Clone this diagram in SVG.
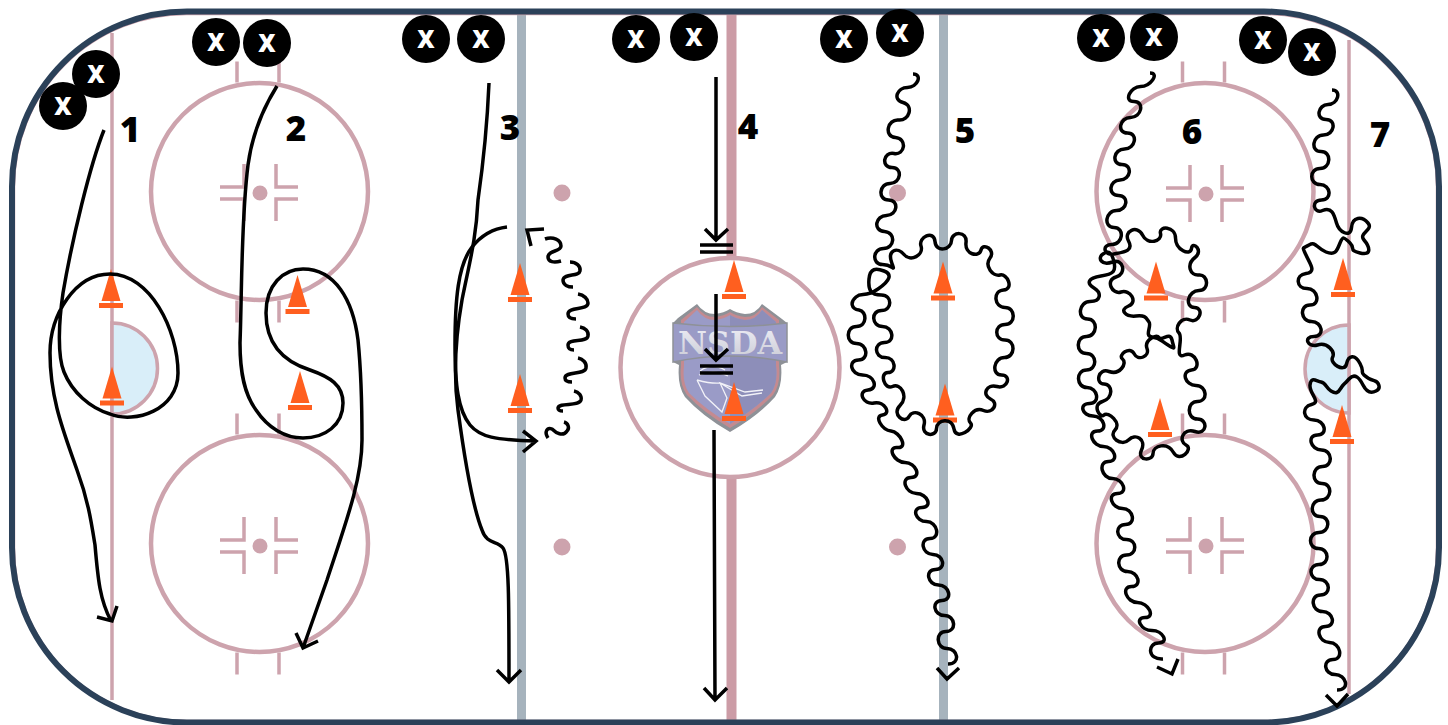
<svg xmlns="http://www.w3.org/2000/svg" width="1448" height="725" viewBox="0 0 1448 725">
<style>
.mk{fill:none;stroke:#cda3ad;stroke-width:3.5}
.ring{fill:none;stroke:#cda3ad;stroke-width:4.5}
.dot{fill:#cda3ad}
.crease{fill:#d9eef9;stroke:#cda3ad;stroke-width:3.5}
.ln{fill:none;stroke:#000;stroke-width:3.5;stroke-linecap:butt;stroke-linejoin:miter}
.wv{fill:none;stroke:#000;stroke-width:3.5;stroke-linecap:butt;stroke-linejoin:miter}
.px{fill:#000}
.pt{fill:#fff;font:800 24px "Open Sans",sans-serif;text-anchor:middle}
.lb{fill:#000;font:800 35px "Open Sans",sans-serif;text-anchor:middle}
.cone{fill:#ff5f1f}
</style>
<defs>
<linearGradient id="nsdaFill" x1="0" y1="0" x2="0" y2="1">
<stop offset="0" stop-color="#eeeef6"/>
<stop offset="1" stop-color="#c9cad4"/>
</linearGradient>
<g id="faceoff">
<path class="mk" d="M-40-6H-16V-29M-40 6H-16V28M38-6H16V-29M38 6H16V28"/>
<circle class="dot" cx="0" cy="0" r="7.5"/>
</g>
<g id="circleMarks">
<circle class="ring" cx="0" cy="0" r="108.5"/>
<path class="mk" d="M-22.500-109V-130M19.500-109V-130M-22.500 109V131M19.500 109V131"/>
</g>
<g id="coneShape">
<path class="cone" d="M0-39L9.500-7H-9.500Z"/>
<rect class="cone" x="-12" y="-5" width="24" height="5"/>
</g>
</defs>
<rect width="1448" height="725" fill="#fff"/>
<g id="rink">
<path d="M112 33V700" fill="none" stroke="#cda3ad" stroke-width="3.500"/>
<path d="M1349 40V694" fill="none" stroke="#cda3ad" stroke-width="3.500"/>
<path d="M521.500 14V722" fill="none" stroke="#a6b3bd" stroke-width="9"/>
<path d="M943.500 14V722" fill="none" stroke="#a6b3bd" stroke-width="9"/>
<path d="M731.500 14V722" fill="none" stroke="#cc9ca6" stroke-width="10"/>
<path class="crease" d="M112 323A45.500 45.500 0 0 1 112 414Z"/>
<path class="crease" d="M1349 325A44 44 0 0 0 1349 413Z"/>
<use href="#circleMarks" x="259.500" y="191.500"/>
<use href="#circleMarks" x="259.500" y="543.500"/>
<use href="#circleMarks" x="1205" y="191.500"/>
<use href="#circleMarks" x="1205" y="543.500"/>
<use href="#faceoff" x="260" y="193"/>
<use href="#faceoff" x="260" y="546"/>
<use href="#faceoff" x="1206" y="194"/>
<use href="#faceoff" x="1206" y="546"/>
<circle cx="730" cy="367.500" r="109.500" fill="#fff" stroke="#cda3ad" stroke-width="4.500"/>
<circle class="dot" cx="562" cy="193" r="8.500"/>
<circle class="dot" cx="562" cy="547" r="8.500"/>
<circle class="dot" cx="897.500" cy="193" r="8.500"/>
<circle class="dot" cx="897.500" cy="547" r="8.500"/>
<rect x="14.500" y="14.500" width="1422" height="706" rx="172" fill="none" stroke="#cda3ad" stroke-width="1.500"/>
<rect x="12" y="11.500" width="1427" height="711" rx="175" fill="none" stroke="#2b4159" stroke-width="6"/>
</g>
<g id="logo">
<path d="M678 318L697 304Q704 314 715 314Q724 313 730 309Q736 313 745 314Q756 314 762 304L782 319L787 323V362L781 365Q783 385 775 397Q758 416 730 432Q702 416 685 397Q677 385 679 365L673 362V323Z" fill="#8e9197"/>
<path d="M681 320L697 307Q704 317 715 317Q724 316 730 312Q736 316 745 317Q756 317 762 307L779 320V366Q781 384 773 395Q756 413 730 428Q704 413 687 395Q679 384 681 366Z" fill="#c48a90"/>
<path d="M684 322L697 310Q704 320 715 320Q724 319 730 315Q736 319 745 320Q756 320 762 310L776 322V366Q778 383 771 393Q754 410 730 424Q706 410 689 393Q682 383 684 366Z" fill="#9a9bc7"/>
<path d="M730 315Q736 319 745 320Q756 320 762 310L776 322V366Q778 383 771 393Q754 410 730 424Z" fill="#8d8eb9"/>
<path d="M673 323Q730 330 787 323V362Q730 350 673 362Z" fill="#9a9bc6" stroke="#8e9197" stroke-width="1.500"/>
<text x="730" y="354" font-family="'DejaVu Serif',serif" font-weight="700" font-size="32" fill="url(#nsdaFill)" text-anchor="middle" textLength="104" lengthAdjust="spacingAndGlyphs">NSDA</text>
<path d="M699 375Q714 369 728 376M700 371Q712 362 725 370M697 380L705 396L722 412L727 398L720 383L745 392L763 390M720 383L742 396L762 393M697 380Q712 384 720 383" fill="none" stroke="#f2f2f8" stroke-width="1.300"/>
</g>
<g id="cones">
<use href="#coneShape" x="111" y="308"/>
<use href="#coneShape" x="112" y="405.500"/>
<use href="#coneShape" x="297.500" y="314"/>
<use href="#coneShape" x="300" y="410"/>
<use href="#coneShape" x="520" y="302"/>
<use href="#coneShape" x="520" y="413"/>
<use href="#coneShape" x="734" y="299"/>
<use href="#coneShape" x="734" y="421"/>
<use href="#coneShape" x="943" y="300.500"/>
<use href="#coneShape" x="945" y="422.500"/>
<use href="#coneShape" x="1156" y="300.500"/>
<use href="#coneShape" x="1160" y="437"/>
<use href="#coneShape" x="1343" y="297"/>
<use href="#coneShape" x="1342" y="444"/>
</g>
<g id="connectors">
<path id="route1" class="ln" d="M104 130C90 165 72 240 63 293C59 320 57 355 64 372C72 392 90 408 110 414C135 424 178 410 178 373C178 330 150 274 110 274C75 274 50 315 50 353C50 400 65 435 77 470C88 500 91 520 95 545C98 580 100 600 111 621M97 617L112 621L117 606"/>
<path id="route2" class="ln" d="M277 86C262 110 252 135 248 165C241 220 242 290 240 343C240 375 245 395 256 410C268 428 285 438 303 438C325 438 343 425 343 403C343 385 330 377 310 370C285 362 266 345 266 313C266 285 283 269 303 269C335 269 353 300 358 340C361 370 362 400 362 440C362 480 345 525 327 580L303 648M296 633L303 648L318 641"/>
<path id="route3a" class="ln" d="M489 83C487 130 483 165 478 200C476 240 470 260 462 300C455 340 454 380 458 410C462 440 470 500 482 530C487 545 497 540 503 548C509 556 509 600 509 682M497 670L509 682L521 670"/>
<path id="route3b" class="ln" d="M507 227C490 229 480 237 472 247C458 265 455 300 455 345C455 385 458 410 470 425C480 437 495 440 536 441M523 431L536 441L523 452"/>
<g id="route3c" class="wv">
<path d="M544 229L527 230L531 246"/>
<path d="M545 239C553 236 561 240 561 246C561 252 548 250 548 257C548 262 554 263 561 261"/>
<path d="M570 262C576 262 581 266 580 271C579 277 564 273 563 280C563 285 568 287 573 287"/>
<path d="M578 294C584 295 588 299 588 303C588 311 568 306 568 314C568 318 571 319 576 319"/>
<path d="M580 327C585 328 589 331 588 336C587 343 568 338 568 345C568 349 570 350 574 350"/>
<path d="M578 358C583 359 587 363 586 368C585 375 565 371 565 378C565 381 568 382 572 382"/>
<path d="M574 391C579 392 582 396 581 400C579 407 559 402 558 408C558 410 560 411 563 411"/>
<path d="M564 422C568 423 570 428 567 431C563 437 556 433 552 429C547 427 544 432 548 438"/>
</g>
<path id="route4a" class="ln" d="M716 77V240M705 229L716 240L728 229M700 245H733M700 252H733"/>
<path id="route4b" class="ln" d="M716 294V360M705 349L716 360L728 349M700 366H733M700 373H733"/>
<path id="route4c" class="ln" d="M714 430L715 700M704 688L715 700L727 688"/>
<path id="route5" class="wv" d="M913 74C923 74 917.500 87.500 907.500 87.500S892 99.500 903 102.500S909.500 121 898.500 120S883.500 136.500 895.500 137.500S905 155.500 894 153.500S881 167.500 892 167.500S901 183.500 890 183.500S877.500 200 888.500 200S897.500 215.500 886.500 215.500S872.500 230.500 884.500 231.500S894.500 248.500 883.500 248.500S871.500 264.500 882.500 264.500S895.500 274 891.500 262S897.500 246.500 904 254.500S924 255 921 246S934 229.500 935 241.500S951.500 249.500 951.500 240.500S967.500 230.500 966 242.500S979 258 981 250S996 250 990 258S993 277 1000 275S1014.500 289 1003.500 290S994 307.500 1005 307.500S1016 324.500 1005 324.500S994 340 1005 340S1015.500 357.500 1004.500 357.500S991 375 1001.500 375S1007.500 389.500 997 386.500S981.500 395 990.500 399S992.500 414.500 983.500 410.500S965.500 418 970.500 423S956 441.500 954 429S936.500 419.500 936.500 428.500S921 436 924 425S913 408.500 909 416.500S891 414.500 900 405.500S900.500 382.500 892.500 386.500S879 372.500 888 372.500S896 357.500 885 357.500S873.500 342.500 884.500 342.500S893.500 326.500 882.500 326.500S870.500 310.500 881.500 310.500S892.500 295 881.500 295S868 290 869 279S876 268 884 271S891 280 878 289S862 292 856 297S851 309 859 310S867.500 326.500 856.500 326.500S845.500 343.500 856.500 343.500S869.500 360 858.500 360S850.500 375 862.500 375S879 389 868 390S863 405 874 403S891.500 414 882.500 415S882 430 891 431S908.500 448.500 897.500 447.500S894 462.500 905 462.500S922 477.500 911 477.500S905.500 493.500 916.500 493.500S933 507.500 922 507.500S915.500 521.500 926.500 521.500S941 538.500 930 538.500S922 554.500 933 554.500S946.500 569.500 935.500 569.500S927.500 585 938.500 585S953 600.500 942 600.500S933.500 615.500 944.500 615.500S957 631.500 946 631.500S936 648.500 947 648.500S961 664 948 664M937 668L947 679L959 668"/>
<path id="route6" class="wv" d="M1150 73C1160 73 1150.500 86.500 1140.500 86.500S1123 101.500 1134 101.500S1141.500 117.500 1130.500 117.500S1116.500 133 1127.500 133S1135.500 149 1124.500 149S1111 164.500 1122 164.500S1131 180 1120 180S1107.500 195.500 1118.500 195.500S1127.500 210.500 1116.500 210.500S1103 227.500 1114 227.500S1123 244.500 1112 244.500S1104 256 1114 254S1134 251 1128.500 241S1137.500 224.500 1142.500 235S1162.500 241.500 1160.500 233.500S1175.500 226 1175.500 238S1190.500 256.500 1191.500 248.500S1204 250.500 1195 257.500S1190 276 1199 275S1210 290.500 1199 290.500S1184 307 1194.500 307.500S1199 324 1190 320S1174 328 1179 333S1173.500 360 1184.500 355S1202.500 369 1191.500 370S1185 385.500 1196 385.500S1208.500 401.500 1197.500 401.500S1186.500 419 1197.500 419S1207 435.500 1195 431.500S1178 441 1186 445S1179.500 463.500 1173.500 452.500S1153 445.500 1153 453.500S1136.500 461 1141.500 450S1135.500 433 1128.500 440S1108 437 1115 430S1108 411 1104 415S1091.500 404.500 1102.500 401.500S1113 384 1104 384S1098 367.500 1109 371.500S1127.500 363 1122.500 359S1130 345.500 1134 353.500S1150 356.500 1147 348.500S1156 333.500 1159 337.500S1170 331 1172 340S1176 350 1168 345S1160 338 1152 337S1152 326 1149 322S1146 315 1136 316S1118.500 310 1128.500 306S1130 289 1121 292S1105 280 1116 277S1123.500 258 1112.500 262S1097 258 1103 254S1112 253 1114 262S1114 274 1101 276S1086 283 1094 288S1101 301.500 1090 301.500S1076.500 319 1087.500 319S1097.500 336.500 1086.500 336.500S1075.500 353.500 1086.500 353.500S1097.500 370 1086.500 370S1076 387.500 1087 387.500S1100.500 403.500 1089.500 403.500S1082 416 1093 416S1108.500 431 1097.500 431S1092.500 446.500 1103.500 446.500S1119.500 461.500 1108.500 461.500S1101.500 478.500 1112.500 478.500S1128.500 493.500 1117.500 493.500S1111.500 508.500 1122.500 508.500S1136.500 524.500 1125.500 524.500S1115.500 539.500 1126.500 539.500S1137.500 555 1126.500 555S1116.500 571.500 1127.500 571.500S1142.500 586.500 1131.500 586.500S1126.500 602.500 1137.500 602.500S1156 617.500 1145 617.500S1141 630.500 1152 630.500S1169.500 643 1158.500 643S1147 660 1163 659M1157 667L1172 674L1178 659"/>
<path id="route7" class="wv" d="M1332 90C1342 90 1338 104.500 1328 104.500S1315 119.500 1326 119.500S1334.500 135 1323.500 135S1310 151.500 1321 151.500S1331 168.500 1320 168.500S1309 184.500 1320 184.500S1332.500 200 1321.500 200S1313.500 214.500 1322.500 210.500S1334 214 1336.500 223S1350.500 238.500 1351.500 227.500S1362 216 1368 223S1358 233 1364 240S1372 256 1360 253S1356 249 1350 243S1343 236 1340 243S1336 256 1326 252S1316 241 1309 245S1302 246 1306 255S1317 272 1306 273.500S1296 288.500 1307 288.500S1321 305 1310 305S1300.500 321.500 1311.500 321.500S1325 336.500 1314 336.500S1307.500 348 1317.500 345S1335.500 351.500 1332.500 357.500S1344.500 373 1346.500 364S1355 354 1360 363.500S1360 371 1364 375S1372 380 1375 381S1382 388 1376 391S1366 391 1363 385S1355 372 1349 379S1344 383 1341 388S1336 394 1331 391S1326 383 1321 382S1311 376 1310 385S1322 402 1311.500 404.500S1303 420 1314 420S1328.500 435 1317.500 435S1310.500 450 1321.500 450S1333.500 466.500 1322.500 466.500S1311 483.500 1322 483.500S1332 500 1321 500S1309 516.500 1320 516.500S1330 532.500 1319 532.500S1307.500 548.500 1318.500 548.500S1330 564.500 1319 564.500S1308.500 579.500 1319.500 579.500S1331.500 595 1320.500 595S1311.500 611.500 1322.500 611.500S1336.500 626.500 1325.500 626.500S1318.500 642.500 1329.500 642.500S1344 659.500 1333 659.500S1324 674.500 1335 674.500S1351 690 1337 690M1326 695L1337 706L1348 694"/>
</g>
<g id="players">
<g id="p1a"><circle class="px" cx="63" cy="106" r="24"/><text class="pt" x="63" y="114.500">X</text></g>
<g id="p1b"><circle class="px" cx="96" cy="74" r="24"/><text class="pt" x="96" y="82.500">X</text></g>
<g id="p2a"><circle class="px" cx="216" cy="42" r="24"/><text class="pt" x="216" y="50.500">X</text></g>
<g id="p2b"><circle class="px" cx="267" cy="43" r="24"/><text class="pt" x="267" y="51.500">X</text></g>
<g id="p3a"><circle class="px" cx="426" cy="39" r="24"/><text class="pt" x="426" y="47.500">X</text></g>
<g id="p3b"><circle class="px" cx="481" cy="39" r="24"/><text class="pt" x="481" y="47.500">X</text></g>
<g id="p4a"><circle class="px" cx="636" cy="39" r="24"/><text class="pt" x="636" y="47.500">X</text></g>
<g id="p4b"><circle class="px" cx="694" cy="37" r="24"/><text class="pt" x="694" y="45.500">X</text></g>
<g id="p5a"><circle class="px" cx="844" cy="39" r="24"/><text class="pt" x="844" y="47.500">X</text></g>
<g id="p5b"><circle class="px" cx="900" cy="33" r="24"/><text class="pt" x="900" y="41.500">X</text></g>
<g id="p6a"><circle class="px" cx="1101" cy="38" r="24"/><text class="pt" x="1101" y="46.500">X</text></g>
<g id="p6b"><circle class="px" cx="1154" cy="37" r="24"/><text class="pt" x="1154" y="45.500">X</text></g>
<g id="p7a"><circle class="px" cx="1263" cy="40" r="24"/><text class="pt" x="1263" y="48.500">X</text></g>
<g id="p7b"><circle class="px" cx="1312" cy="52" r="24"/><text class="pt" x="1312" y="60.500">X</text></g>
</g>
<g id="labels">
<text class="lb" x="130" y="142">1</text>
<text class="lb" x="296" y="141">2</text>
<text class="lb" x="510" y="140">3</text>
<text class="lb" x="748" y="139">4</text>
<text class="lb" x="965" y="143">5</text>
<text class="lb" x="1192" y="144">6</text>
<text class="lb" x="1380" y="147">7</text>
</g>
</svg>
